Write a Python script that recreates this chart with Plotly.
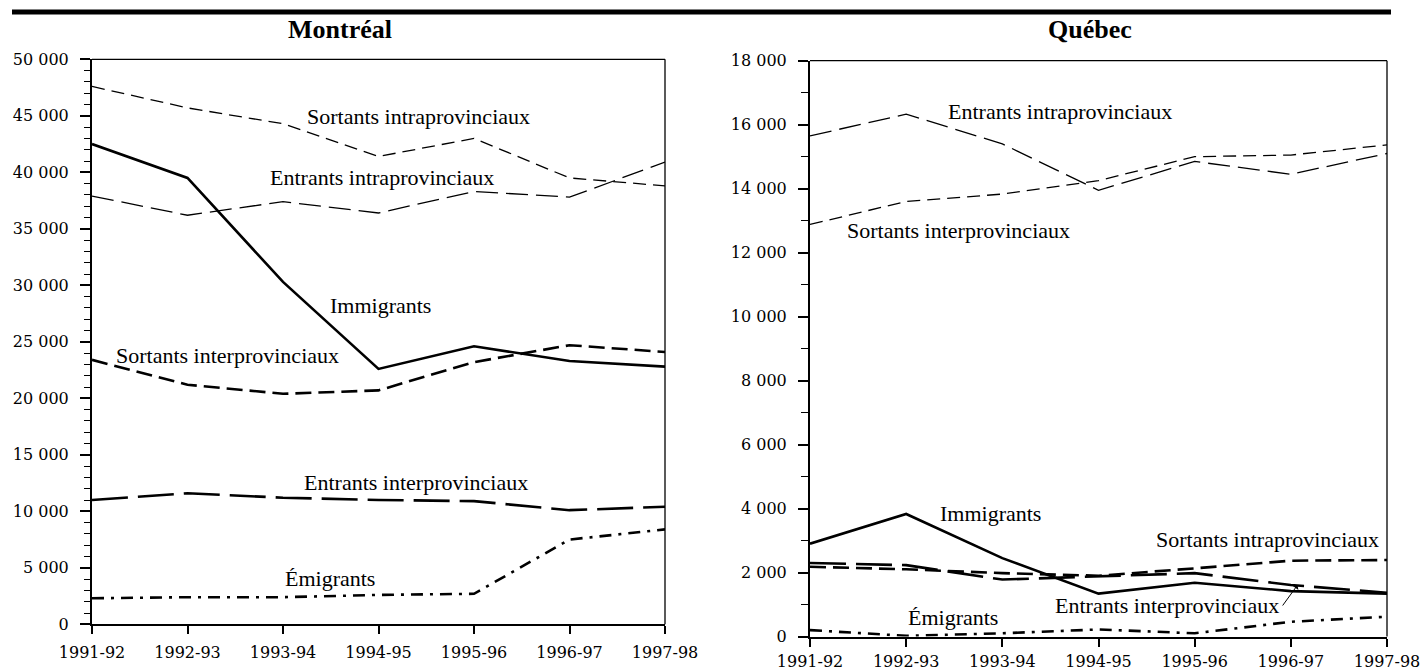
import plotly.graph_objects as go

years = ["1991-92", "1992-93", "1993-94", "1994-95", "1995-96", "1996-97", "1997-98"]

# Montréal
mtl_sortants_intra = [47600, 45700, 44300, 41400, 43000, 39500, 38800]
mtl_entrants_intra = [37900, 36200, 37400, 36400, 38300, 37800, 40900]
mtl_immigrants = [42500, 39500, 30300, 22600, 24600, 23300, 22800]
mtl_sortants_inter = [23400, 21200, 20400, 20700, 23200, 24700, 24100]
mtl_entrants_inter = [11000, 11600, 11200, 11000, 10900, 10100, 10400]
mtl_emigrants = [2300, 2400, 2400, 2600, 2700, 7500, 8400]

# Québec
qc_entrants_intra = [15650, 16330, 15400, 13950, 14850, 14450, 15100]
qc_sortants_inter = [12880, 13600, 13830, 14250, 15000, 15050, 15370]
qc_immigrants = [2900, 3830, 2450, 1340, 1680, 1420, 1340]
qc_sortants_intra = [2180, 2100, 1980, 1900, 2130, 2370, 2390]
qc_entrants_inter = [2300, 2230, 1780, 1890, 1980, 1610, 1370]
qc_emigrants = [200, 20, 100, 220, 100, 460, 620]

W, H = 1423, 670
def px(x):
    return x / W
def py(y):
    return 1 - y / H

THIN = 1.3
THICK = 2.6
styles = {
    "short": dict(width=THIN, dash="13px,7px"),
    "long": dict(width=THIN, dash="22px,8px"),
    "solid": dict(width=THICK, dash="solid"),
    "med": dict(width=THICK, dash="16px,7px"),
    "vlong": dict(width=THICK, dash="36px,10px"),
    "dashdot": dict(width=THICK, dash="12px,7px,3px,7px"),
}

fig = go.Figure()

def add(series, style, xa, ya, name):
    fig.add_trace(go.Scatter(x=years, y=series, mode="lines", name=name,
                             line=dict(color="black", **styles[style]),
                             xaxis=xa, yaxis=ya, showlegend=False, hoverinfo="skip"))

add(mtl_sortants_intra, "short", "x", "y", "Sortants intraprovinciaux")
add(mtl_entrants_intra, "long", "x", "y", "Entrants intraprovinciaux")
add(mtl_immigrants, "solid", "x", "y", "Immigrants")
add(mtl_sortants_inter, "med", "x", "y", "Sortants interprovinciaux")
add(mtl_entrants_inter, "vlong", "x", "y", "Entrants interprovinciaux")
add(mtl_emigrants, "dashdot", "x", "y", "Émigrants")

add(qc_entrants_intra, "long", "x2", "y2", "Entrants intraprovinciaux")
add(qc_sortants_inter, "short", "x2", "y2", "Sortants interprovinciaux")
add(qc_immigrants, "solid", "x2", "y2", "Immigrants")
add(qc_sortants_intra, "med", "x2", "y2", "Sortants intraprovinciaux")
add(qc_entrants_inter, "vlong", "x2", "y2", "Entrants interprovinciaux")
add(qc_emigrants, "dashdot", "x2", "y2", "Émigrants")

tickfont = dict(family="DejaVu Serif", size=16, color="black")
xcommon = dict(type="category", range=[0, 6], showline=True, linewidth=2, linecolor="black",
               ticks="outside", ticklen=8, tickwidth=1.5, tickcolor="black", tickfont=tickfont,
               showgrid=False, zeroline=False, fixedrange=True, automargin=False)
ycommon = dict(showline=True, linewidth=2, linecolor="black", ticks="outside", ticklen=10,
               tickwidth=1.5, tickcolor="black", tickfont=tickfont, showgrid=False,
               zeroline=False, fixedrange=True, tickformat=",d", ticklabelstandoff=8,
               automargin=False)

fig.update_layout(
    width=W, height=H, margin=dict(l=0, r=0, t=0, b=0, autoexpand=False),
    paper_bgcolor="white", plot_bgcolor="white", separators=", ",
    xaxis=dict(domain=[px(92), px(665)], anchor="y", ticklabelstandoff=4, **xcommon),
    yaxis=dict(domain=[py(624.3), py(59.3)], anchor="x", range=[0, 50000], tick0=0, dtick=5000,
               minor=dict(dtick=1000, ticks="outside", ticklen=6, tickcolor="black", tickwidth=1.2),
               **ycommon),
    xaxis2=dict(domain=[px(810), px(1387)], anchor="y2", ticklabelstandoff=1, **xcommon),
    yaxis2=dict(domain=[py(636.5), py(60.7)], anchor="x2", range=[0, 18000], tick0=0, dtick=2000,
                minor=dict(dtick=1000, ticks="outside", ticklen=7, tickcolor="black", tickwidth=1.2),
                **ycommon),
)

shapes = [
    dict(type="line", xref="paper", yref="paper", x0=px(12), x1=px(1391), y0=py(12), y1=py(12),
         line=dict(color="black", width=5)),
]
for xr, yr in (("x", "y"), ("x2", "y2")):
    shapes.append(dict(type="line", xref=f"{xr} domain", yref=f"{yr} domain", x0=0, x1=1, y0=1, y1=1,
                       line=dict(color="black", width=1.3)))
    shapes.append(dict(type="line", xref=f"{xr} domain", yref=f"{yr} domain", x0=1, x1=1, y0=0, y1=1,
                       line=dict(color="black", width=1.3)))
fig.update_layout(shapes=shapes)

lab_font = dict(family="Liberation Serif", size=22, color="black")
title_font = dict(family="Liberation Serif", size=26, color="black")

annots = [
    ("<b>Montréal</b>", 340, 29, "center", title_font),
    ("<b>Québec</b>", 1090, 29, "center", title_font),
    ("Sortants intraprovinciaux", 305, 117, "left", lab_font),
    ("Entrants intraprovinciaux", 268, 177, "left", lab_font),
    ("Immigrants", 328, 305, "left", lab_font),
    ("Sortants interprovinciaux", 114, 355, "left", lab_font),
    ("Entrants interprovinciaux", 302, 483, "left", lab_font),
    ("Émigrants", 283, 578, "left", lab_font),
    ("Entrants intraprovinciaux", 946, 111, "left", lab_font),
    ("Sortants interprovinciaux", 845, 230, "left", lab_font),
    ("Immigrants", 938, 513, "left", lab_font),
    ("Sortants intraprovinciaux", 1154, 539, "left", lab_font),
    ("Entrants interprovinciaux", 1053, 605, "left", lab_font),
    ("Émigrants", 906, 617, "left", lab_font),
]
for text, x, y, anc, f in annots:
    fig.add_annotation(text=text, x=px(x), y=py(y), xref="paper", yref="paper",
                       xanchor=anc, yanchor="middle", showarrow=False, font=f)

# arrow pointing to the Québec "Entrants interprovinciaux" line at 1996-97
fig.add_annotation(text="", x=5.07, y=qc_entrants_inter[5], xref="x2", yref="y2",
                   showarrow=True, arrowhead=1, arrowsize=1.2, arrowwidth=1, arrowcolor="black",
                   ax=-16, ay=22)

fig.write_html("out.html", config={"displayModeBar": False},
               post_script="document.body.style.margin='0';document.body.style.overflow='hidden';")
